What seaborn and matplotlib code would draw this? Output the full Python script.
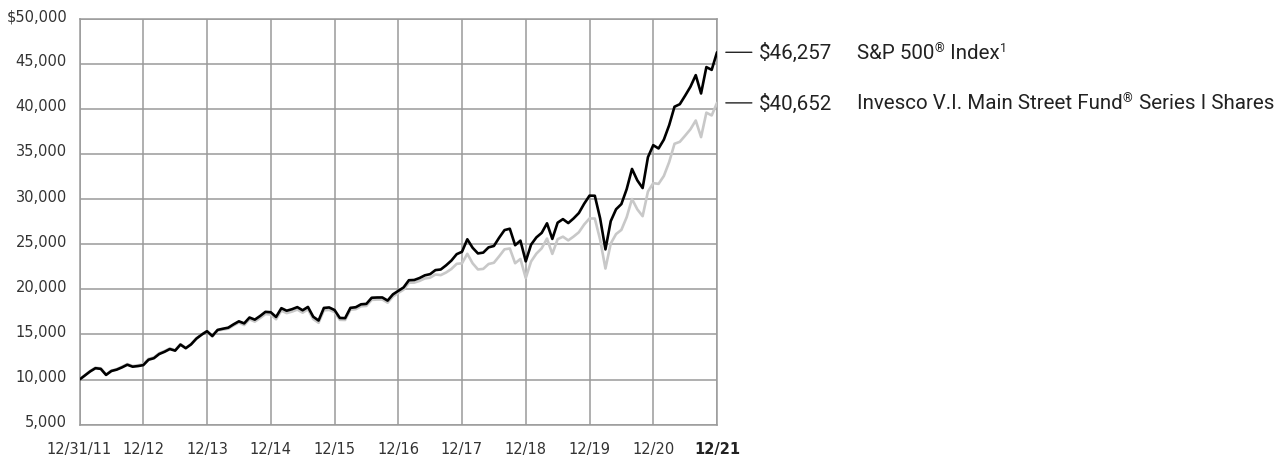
import matplotlib
matplotlib.use("Agg")
import matplotlib.pyplot as plt
import matplotlib.transforms as mtransforms
import seaborn as sns
import pandas as pd

# Monthly values of a hypothetical $10,000 investment, 12/31/11 .. 12/31/21
sp500 = [
    10000,
    10448, 10899, 11258, 11187, 10515, 10948, 11100, 11350, 11643, 11427, 11494, 11598,
    12199, 12365, 12829, 13076, 13382, 13203, 13875, 13473, 13896, 14535, 14978, 15357,
    14826, 15503, 15634, 15749, 16119, 16453, 16226, 16875, 16639, 17045, 17503, 17459,
    16936, 17909, 17626, 17796, 18025, 17676, 18047, 16959, 16540, 17936, 17989, 17705,
    16827, 16805, 17945, 18015, 18339, 18387, 19065, 19092, 19095, 18748, 19442, 19827,
    20203, 21005, 21031, 21247, 21547, 21680, 22127, 22196, 22653, 23181, 23892, 24157,
    25542, 24599, 23974, 24065, 24645, 24798, 25721, 26559, 26711, 24884, 25391, 23098,
    24949, 25750, 26249, 27312, 25578, 27381, 27775, 27336, 27848, 28452, 29485, 30375,
    30363, 27864, 24423, 27554, 28866, 29440, 31100, 33336, 32070, 31217, 34635, 35965,
    35601, 36584, 38186, 40226, 40507, 41451, 42438, 43728, 41694, 44617, 44309, 46257,
]
fund = [
    10000,
    10480, 10940, 11320, 11240, 10560, 10990, 11150, 11420, 11720, 11500, 11580, 11690,
    12290, 12450, 12910, 13150, 13450, 13260, 13920, 13510, 13920, 14560, 15000, 15370,
    14760, 15440, 15540, 15640, 16000, 16320, 16040, 16680, 16420, 16820, 17260, 17200,
    16680, 17640, 17360, 17530, 17750, 17410, 17780, 16700, 16290, 17670, 17720, 17480,
    16620, 16600, 17730, 17800, 18120, 18160, 18830, 18860, 18870, 18520, 19210, 19600,
    19960, 20730, 20740, 20930, 21200, 21290, 21640, 21570, 21860, 22250, 22820, 22880,
    23930, 22880, 22200, 22260, 22800, 22940, 23660, 24430, 24520, 22890, 23360, 21250,
    23080, 23950, 24540, 25620, 23920, 25550, 25830, 25420, 25840, 26320, 27180, 27850,
    27840, 25500, 22300, 25070, 26120, 26580, 27990, 30000, 28860, 28100, 30830, 31760,
    31680, 32560, 34100, 36120, 36340, 37020, 37730, 38700, 36860, 39570, 39260, 40652,
]
series_names = ["S&P 500® Index¹", "Invesco V.I. Main Street Fund® Series I Shares"]
# label pieces: (text, is_superscript)
label_pieces = [
    [("S&P 500", False), ("®", True), (" Index", False), ("1", True)],
    [("Invesco V.I. Main Street Fund", False), ("®", True), (" Series I Shares", False)],
]
end_labels = ["$46,257", "$40,652"]
x_tick_labels = ["12/31/11", "12/12", "12/13", "12/14", "12/15", "12/16",
                 "12/17", "12/18", "12/19", "12/20", "12/21"]
y_ticks = [5000, 10000, 15000, 20000, 25000, 30000, 35000, 40000, 45000, 50000]
y_tick_labels = ["5,000", "10,000", "15,000", "20,000", "25,000", "30,000",
                 "35,000", "40,000", "45,000", "$50,000"]

months = list(range(len(sp500)))
df = pd.concat([
    pd.DataFrame({"month": months, "value": fund, "series": series_names[1]}),
    pd.DataFrame({"month": months, "value": sp500, "series": series_names[0]}),
])

sns.set_theme(style="white")
plt.rcParams["font.family"] = ["DejaVu Sans"]

fig = plt.figure(figsize=(12.88, 4.6), dpi=100)
ax = fig.add_axes([79.5 / 1288, (460 - 425.7) / 460, 637.5 / 1288, 406.2 / 460])

palette = {series_names[0]: "#000000", series_names[1]: "#c8c8c8"}
sns.lineplot(data=df, x="month", y="value", hue="series", palette=palette,
             hue_order=[series_names[1], series_names[0]], linewidth=1.9,
             ax=ax, legend=False, zorder=3)

ax.set_xlim(0, 120)
ax.set_ylim(5000, 50000)
ax.set_xticks(range(0, 121, 12))
ax.set_xticklabels(x_tick_labels)
ax.set_yticks(y_ticks)
ax.set_yticklabels(y_tick_labels)
ax.set_xlabel("")
ax.set_ylabel("")
ax.tick_params(axis="both", length=0, labelsize=10.5, labelcolor="#333333")
ax.tick_params(axis="x", pad=12)
ax.tick_params(axis="y", pad=9)
ax.get_xticklabels()[-1].set_fontweight("bold")
ax.get_xticklabels()[-1].set_color("#222222")
shift_up = mtransforms.ScaledTranslation(0, 4.5 / 100, fig.dpi_scale_trans)
for lab in ax.get_yticklabels():
    lab.set_transform(lab.get_transform() + shift_up)

ax.grid(True, color="#9a9a9a", linewidth=1.1)
ax.set_axisbelow(True)
for s in ax.spines.values():
    s.set_color("#9a9a9a")
    s.set_linewidth(1.1)

label_font = ["Roboto", "DejaVu Sans"]
fs = 14.8
fig.canvas.draw()
renderer = fig.canvas.get_renderer()
ytrans = ax.get_yaxis_transform()
for pieces, end_lab, vals in zip(label_pieces, end_labels, [sp500, fund]):
    yv = vals[-1]
    ax.annotate("", xy=(1.0095, yv), xytext=(1.059, yv),
                xycoords=("axes fraction", "data"),
                textcoords=("axes fraction", "data"),
                arrowprops=dict(arrowstyle="-", color="#222222", lw=1.0),
                annotation_clip=False)
    ax.text(1.066, yv, end_lab, transform=ytrans,
            ha="left", va="center", fontsize=fs, color="#222222",
            family=label_font, clip_on=False)
    # chained label pieces, starting at x = 857 px
    xpix = 857.0
    ypix = ytrans.transform((0, yv))[1]
    for txt, sup in pieces:
        size = fs * 0.6 if sup else fs
        dy = 5.0 if sup else 0.0
        t = fig.text(xpix / 1288, (ypix + dy) / 460, txt, ha="left", va="center",
                     fontsize=size, color="#222222", family=label_font)
        bb = t.get_window_extent(renderer=renderer)
        xpix += bb.width + (1.0 if sup else 0.0)

fig.savefig("out.png", dpi=100)
